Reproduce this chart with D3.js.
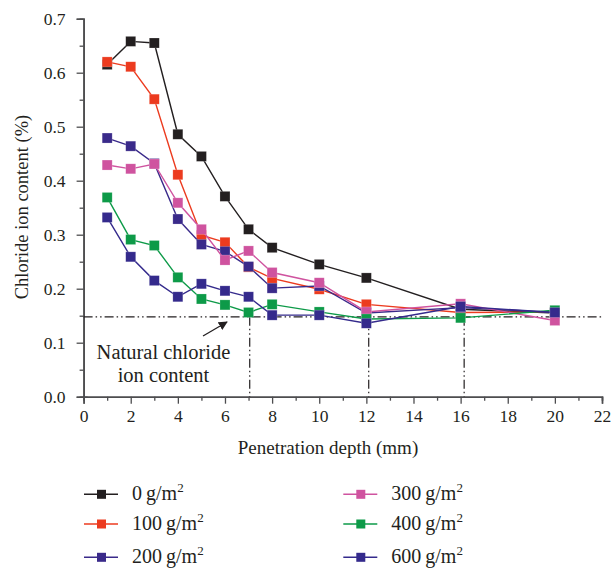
<!DOCTYPE html>
<html>
<head>
<meta charset="utf-8">
<script src="https://cdn.jsdelivr.net/npm/d3@7"></script>
<style>
  body { margin: 0; background: #fff; }
  text { font-family: "Liberation Serif", "Times New Roman", serif; fill: #231f20; }
</style>
</head>
<body>
<svg id="chart" width="613" height="571"></svg>
<script>
const depth = [1, 2, 3, 4, 5, 6, 7, 8, 10, 12, 16, 20];
const dose0   = [0.615, 0.658, 0.655, 0.486, 0.445, 0.371, 0.310, 0.276, 0.245, 0.220, 0.162, 0.155];
const dose100 = [0.620, 0.611, 0.551, 0.411, 0.299, 0.286, 0.240, 0.219, 0.199, 0.171, 0.156, 0.157];
const dose200 = [0.479, 0.464, 0.432, 0.329, 0.282, 0.269, 0.241, 0.201, 0.205, 0.155, 0.165, 0.156];
const dose300 = [0.429, 0.422, 0.431, 0.359, 0.310, 0.253, 0.270, 0.230, 0.211, 0.157, 0.172, 0.141];
const dose400 = [0.369, 0.291, 0.280, 0.221, 0.181, 0.170, 0.156, 0.171, 0.157, 0.144, 0.146, 0.160];
const dose600 = [0.332, 0.259, 0.215, 0.185, 0.209, 0.196, 0.185, 0.151, 0.151, 0.136, 0.167, 0.156];
const doses = ["0", "100", "200", "300", "400", "600"];
const colors = ["#231f20", "#ec3b1f", "#3a2a8a", "#cf539f", "#0d9a48", "#342a8c"];
const naturalLevel = 0.148;
const markDepths = [7.05, 12.1, 16.15];
const xTicks = d3.range(0, 23, 2);
const yTicks = d3.range(0, 0.71, 0.1);

const svg = d3.select("#chart");
const x = d3.scaleLinear().domain([0, 22]).range([83.6, 602]);
const y = d3.scaleLinear().domain([0, 0.7]).range([396.7, 18.7]);

const series = [dose0, dose100, dose200, dose300, dose400, dose600].map((v, i) => ({
  name: doses[i], color: colors[i],
  points: depth.map((d, j) => ({ x: d, y: v[j] }))
}));

// axes: minor ticks first, then major with labels
svg.append("g").attr("transform", "translate(0,396.7)")
  .call(d3.axisBottom(x).tickValues(d3.range(1, 22, 2)).tickSize(4).tickFormat(""));
svg.append("g").attr("transform", "translate(83.6,0)")
  .call(d3.axisLeft(y).tickValues(d3.range(0.05, 0.7, 0.1)).tickSize(4).tickFormat(""));
const xAxis = svg.append("g").attr("transform", "translate(0,396.7)")
  .call(d3.axisBottom(x).tickValues(xTicks).tickSize(7).tickPadding(6).tickFormat(d3.format("d")));
const yAxis = svg.append("g").attr("transform", "translate(83.6,0)")
  .call(d3.axisLeft(y).tickValues(yTicks).tickSize(7).tickPadding(11).tickFormat(d3.format(".1f")));
svg.selectAll(".domain").attr("stroke", "#4d4d4f").attr("stroke-width", 1.6);
svg.selectAll(".tick line").attr("stroke", "#4d4d4f").attr("stroke-width", 1.3);
svg.selectAll(".tick text").attr("font-size", 17.5).attr("font-family", "Liberation Serif").attr("fill", "#231f20");
// 0.0 tick crosses the axis
yAxis.select(".tick line").attr("x2", -7).attr("x1", 4);

svg.append("text").attr("x", 328).attr("y", 454).attr("text-anchor", "middle")
  .attr("font-size", 19).text("Penetration depth (mm)");
svg.append("text").attr("transform", "translate(28,207) rotate(-90)").attr("text-anchor", "middle")
  .attr("font-size", 18.5).text("Chloride ion content (%)");

// natural chloride reference lines
const dashes = "9,3,1.5,3,1.5,3";
svg.append("line").attr("x1", x(0)).attr("x2", x(22)).attr("y1", y(naturalLevel)).attr("y2", y(naturalLevel))
  .attr("stroke", "#231f20").attr("stroke-width", 1.2).attr("stroke-dasharray", dashes);
svg.selectAll(".vmark").data(markDepths).enter().append("line")
  .attr("x1", d => x(d)).attr("x2", d => x(d)).attr("y1", y(naturalLevel)).attr("y2", y(0))
  .attr("stroke", "#231f20").attr("stroke-width", 1.2).attr("stroke-dasharray", dashes);

// series
const line = d3.line().x(d => x(d.x)).y(d => y(d.y));
series.forEach(s => {
  const g = svg.append("g");
  g.append("path").attr("d", line(s.points)).attr("fill", "none")
    .attr("stroke", s.color).attr("stroke-width", 1.4);
  g.selectAll("rect").data(s.points).enter().append("rect")
    .attr("x", d => x(d.x) - 5).attr("y", d => y(d.y) - 5)
    .attr("width", 10).attr("height", 10).attr("fill", s.color)
    .attr("stroke", "#fff").attr("stroke-opacity", 0.35).attr("stroke-width", 0.6);
});

// annotation
svg.append("defs").append("marker").attr("id", "head").attr("viewBox", "0 0 10 10")
  .attr("refX", 9).attr("refY", 5).attr("markerWidth", 9).attr("markerHeight", 9)
  .attr("orient", "auto").attr("markerUnits", "userSpaceOnUse")
  .append("path").attr("d", "M0,0L10,5L0,10z").attr("fill", "#231f20");
svg.append("line").attr("x1", 203).attr("y1", 336).attr("x2", 227).attr("y2", 322)
  .attr("stroke", "#231f20").attr("stroke-width", 1.3).attr("marker-end", "url(#head)");
const note = svg.append("text").attr("text-anchor", "middle").attr("font-size", 20.5);
note.append("tspan").attr("x", 163.5).attr("y", 359).text("Natural chloride");
note.append("tspan").attr("x", 163.5).attr("y", 382).text("ion content");

// legend
const legend = svg.selectAll(".leg").data(series).enter().append("g")
  .attr("transform", (d, i) => {
    const col = Math.floor(i / 3), row = i % 3;
    const ys = [494.3, 524, 557.3];
    return `translate(${col ? 343.3 : 84},${ys[row]})`;
  });
legend.append("line").attr("x1", 0).attr("x2", 34).attr("stroke", d => d.color).attr("stroke-width", 1.4);
legend.append("rect").attr("x", 13).attr("y", -4.5).attr("width", 9).attr("height", 9).attr("fill", d => d.color);
const lt = legend.append("text").attr("x", 48).attr("y", 6).attr("font-size", 20);
lt.append("tspan").text(d => d.name + "\u2009g/m");
lt.append("tspan").attr("dy", -8).attr("font-size", 13).text("2");
</script>
</body>
</html>
